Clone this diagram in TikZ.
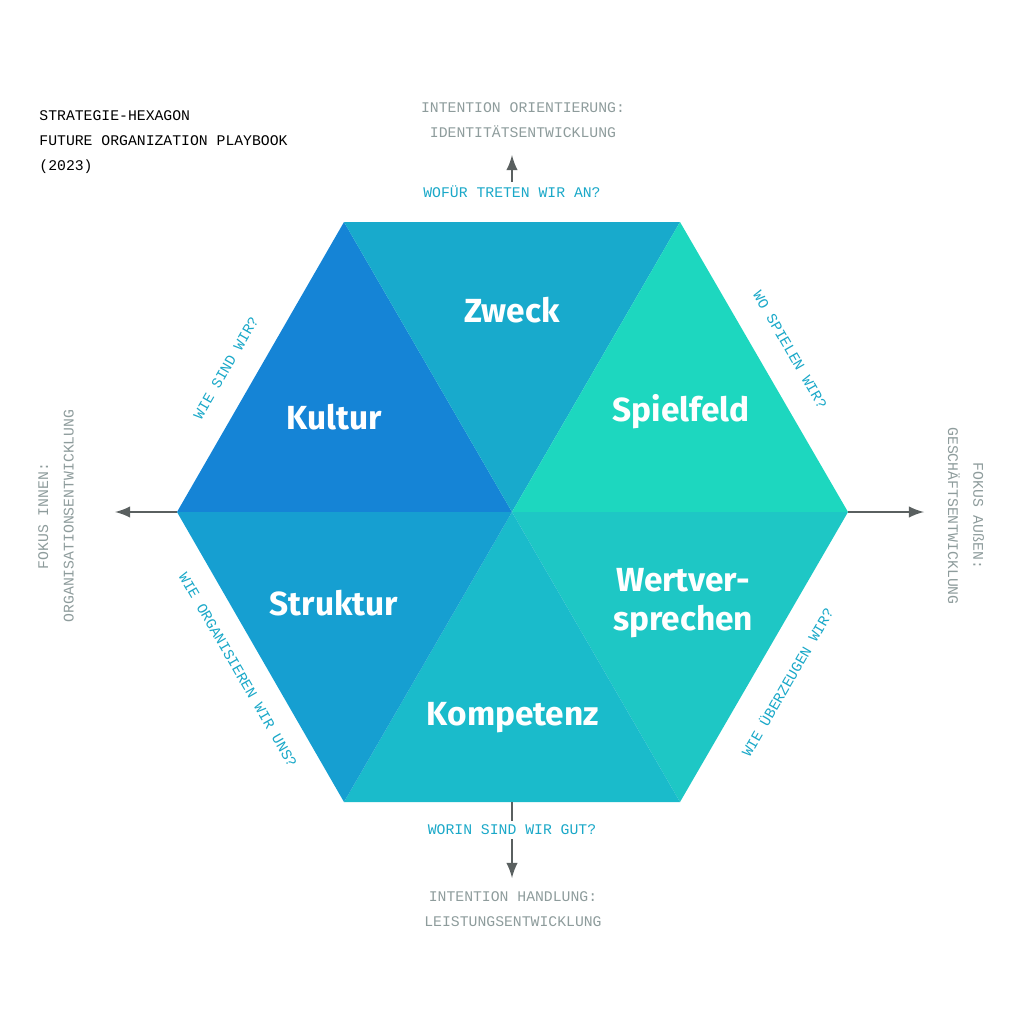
\documentclass[tikz,border=0pt]{standalone}
\usepackage{fontspec}
\setmainfont{Fira Sans}
\newfontfamily\monofont{Liberation Mono}
\usetikzlibrary{positioning}
\definecolor{cKultur}{HTML}{1584D6}
\definecolor{cZweck}{HTML}{18AACC}
\definecolor{cSpiel}{HTML}{1DD7BF}
\definecolor{cWert}{HTML}{1EC7C5}
\definecolor{cKomp}{HTML}{1ABBCB}
\definecolor{cStrukt}{HTML}{169FD1}
\definecolor{qtext}{HTML}{1AA8C8}
\definecolor{gtext}{HTML}{8E9C9C}
\definecolor{arrowgray}{HTML}{5A6060}
\tikzset{
  field/.style={font=\fontsize{9.5}{11}\selectfont\bfseries, text=white, align=center},
  question/.style={font=\monofont\fontsize{4.2}{6}\selectfont, text=qtext, inner sep=1pt},
  focus/.style={font=\monofont\fontsize{4.2}{7.2}\selectfont, text=gtext, align=center},
  axis/.style={draw=arrowgray, line width=0.5pt, -latex}
}
\begin{document}
\begin{tikzpicture}[x=0.01cm, y=-0.01cm]
		\useasboundingbox (0,0) rectangle (1024,1024);
		\coordinate (C) at (512,512);
		\coordinate (L) at (177,512);
		\coordinate (R) at (848,512);
		\coordinate (TL) at (344,222);
		\coordinate (TR) at (680,222);
		\coordinate (BL) at (344,802);
		\coordinate (BR) at (680,802);
		
		\fill[cKultur] (C) -- (L) -- (TL) -- cycle;
		\fill[cZweck] (C) -- (TL) -- (TR) -- cycle;
		\fill[cSpiel] (C) -- (TR) -- (R) -- cycle;
		\fill[cWert] (C) -- (R) -- (BR) -- cycle;
		\fill[cKomp] (C) -- (BR) -- (BL) -- cycle;
		\fill[cStrukt] (C) -- (BL) -- (L) -- cycle;
		
		\node[field] (zweck) at (512,310){Zweck};
		\node[field] (kultur) at (334,417){Kultur};
		\node[field] (spielfeld) at (681,412){Spielfeld};
		\node[field] (struktur) at (334,603){Struktur};
		\node[field] (wert) at (683,603){Wertver-\\sprechen};
		\node[field] (kompetenz) at (513,718){Kompetenz};
		
		\node[question] (qtop) at (512,192){WOFÜR TRETEN WIR AN?};
		\node[question] (qbot) at (512,830){WORIN SIND WIR GUT?};
		\node[question, rotate=60] (qkultur) at (226,368){WIE SIND WIR?};
		\node[question, rotate=-60] (qspiel) at (790,350){WO SPIELEN WIR?};
		\node[question, rotate=-60] (qstrukt) at (238,670){WIE ORGANISIEREN WIR UNS?};
		\node[question, rotate=60] (qwert) at (787,682){WIE ÜBERZEUGEN WIR?};
		
		% axes
		\coordinate (topB) at (512,155);
		\coordinate (botA) at (512,802);
		\coordinate (botB) at (512,878);
		\coordinate (rightB) at (924,512);
		\coordinate (leftB) at (115,512);
		\draw[axis] (qtop.north) -- (topB);
		\draw[arrowgray, line width=0.5pt] (botA) -- (qbot.north);
		\draw[axis] (qbot.south) -- (botB);
		\draw[axis] (R) -- (rightB);
		\draw[axis] (L) -- (leftB);
		
		\node[focus] (ftop) at (523,120){INTENTION ORIENTIERUNG:\\IDENTITÄTSENTWICKLUNG};
		\node[focus] (fbot) at (513,909){INTENTION HANDLUNG:\\LEISTUNGSENTWICKLUNG};
		\node[focus, rotate=90] (fleft) at (56,516){FOKUS INNEN:\\ORGANISATIONSENTWICKLUNG};
		\node[focus, rotate=-90] (fright) at (966,516){FOKUS AUßEN:\\GESCHÄFTSENTWICKLUNG};
		
		\node[font=\monofont\fontsize{4.2}{7.2}\selectfont, align=left, anchor=north west] (title) at (27,98){STRATEGIE-HEXAGON\\FUTURE ORGANIZATION PLAYBOOK\\(2023)};
	\end{tikzpicture}
\end{document}
